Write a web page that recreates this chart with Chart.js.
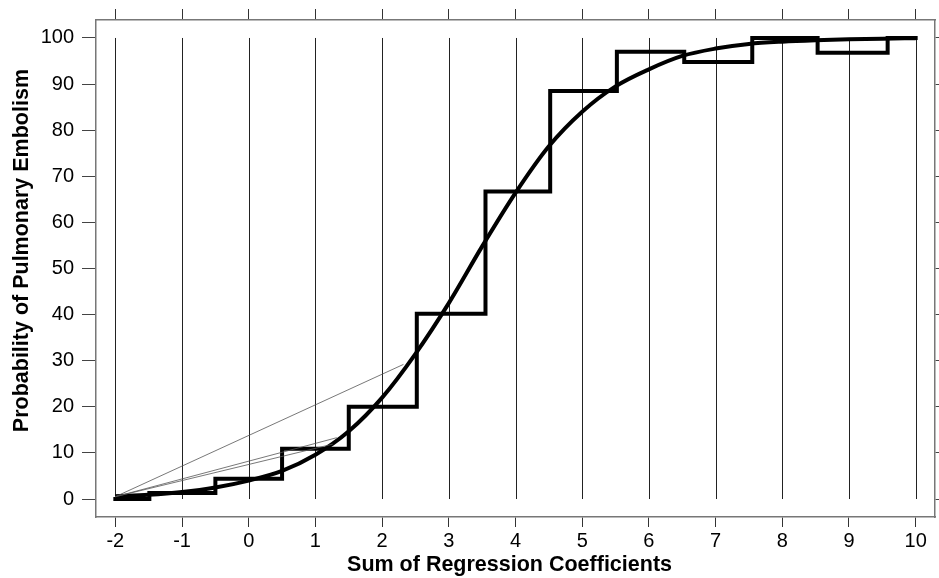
<!DOCTYPE html>
<html>
<head>
<meta charset="utf-8">
<script src="https://cdn.jsdelivr.net/npm/chart.js@4/dist/chart.umd.min.js"></script>
<style>
html,body{margin:0;padding:0;background:#fff;}
#wrap{width:939px;height:578px;}
</style>
</head>
<body>
<div id="wrap"><canvas id="c" width="939" height="578"></canvas></div>
<script>
// ---- data ----
const xTicks = [-2,-1,0,1,2,3,4,5,6,7,8,9,10];
const yTicks = [0,10,20,30,40,50,60,70,80,90,100];

// observed proportions (step function): start of each step and its level
const stepX = [-2, -1.49, -0.5, 0.5, 1.5, 2.52, 3.55, 4.52, 5.52, 6.53, 7.55, 8.53, 9.58, 10];
const stepY = [0, 1.3, 4.4, 10.9, 20, 40.2, 66.7, 88.5, 97, 94.8, 100, 96.8, 100, 100];

// fitted curve, read at half-unit points
const curveX = [-2,-1.5,-1,-0.5,0,0.5,1,1.5,2,2.5,3,3.5,4,4.5,5,5.5,6,6.5,7,7.5,8,8.5,9,9.5,10];
const curveY = [0.6,0.9,1.5,2.5,4,6.1,9.6,14.7,22,31.5,42.5,54.8,66.4,76.5,84,89.5,93.2,96.1,97.7,98.7,99.2,99.5,99.7,99.85,99.95];

// thin lines fanning out from a common origin
const fanOrigin = [-2, 0.5];
const fanEndX = [2.32, 1.32, 1.26];
const fanEndY = [29.2, 13.3, 11.9];

const xTitle = 'Sum of Regression Coefficients  ';
const yTitle = '      Probability of Pulmonary Embolism';

// ---- build datasets ----
const pts = (xs, ys) => xs.map((x, i) => ({x: x, y: ys[i]}));
const datasets = [];
fanEndX.forEach((ex, i) => {
  datasets.push({
    data: [{x: fanOrigin[0], y: fanOrigin[1]}, {x: ex, y: fanEndY[i]}],
    borderColor: '#555', borderWidth: 0.8, pointRadius: 0, tension: 0
  });
});
datasets.push({
  data: pts(stepX, stepY), stepped: 'before',
  borderColor: '#000', borderWidth: 4, pointRadius: 0, borderJoinStyle: 'miter', borderCapStyle: 'square'
});
datasets.push({
  data: pts(curveX, curveY), cubicInterpolationMode: 'monotone',
  borderColor: '#000', borderWidth: 4, pointRadius: 0
});

// vertical grid lines spanning only the data range 0..100
const vGrid = {
  id: 'vGrid',
  beforeDatasetsDraw(chart) {
    const {ctx, scales: {x, y}} = chart;
    const y0 = y.getPixelForValue(yTicks[0]);
    const y1 = y.getPixelForValue(yTicks[yTicks.length - 1]);
    ctx.save();
    ctx.strokeStyle = '#222';
    ctx.lineWidth = 1;
    xTicks.forEach(v => {
      const px = Math.round(x.getPixelForValue(v)) + 0.5;
      ctx.beginPath();
      ctx.moveTo(px, y0);
      ctx.lineTo(px, y1);
      ctx.stroke();
    });
    ctx.restore();
  }
};

const tickFont = {family: "'Liberation Sans', Arial, sans-serif", size: 20};
const titleFont = {family: "'Liberation Sans', Arial, sans-serif", size: 21.5, weight: 'bold'};
const setX = s => { s.ticks = xTicks.map(v => ({value: v})); };
const setY = s => { s.ticks = yTicks.map(v => ({value: v})); };
const border = {display: true, color: '#777', width: 1.5};

new Chart(document.getElementById('c'), {
  type: 'line',
  data: {datasets: datasets},
  plugins: [vGrid],
  options: {
    responsive: false,
    animation: false,
    devicePixelRatio: 1,
    layout: {padding: 0},
    plugins: {legend: {display: false}, tooltip: {enabled: false}},
    scales: {
      x: {
        type: 'linear', position: 'bottom', min: -2.29, max: 10.29,
        afterBuildTicks: setX,
        afterFit: s => { s.height = 61; },
        grid: {drawOnChartArea: false, drawTicks: true, tickLength: 10, color: '#333', tickWidth: 1},
        border: border,
        ticks: {font: tickFont, color: '#000', padding: 2, maxRotation: 0, autoSkip: false},
        title: {display: true, text: xTitle, font: titleFont, color: '#000', padding: {top: 0, bottom: 0}}
      },
      x2: {
        type: 'linear', axis: 'x', position: 'top', min: -2.29, max: 10.29,
        afterBuildTicks: setX,
        afterFit: s => { s.height = 18; },
        grid: {drawOnChartArea: false, drawTicks: true, tickLength: 11, color: '#333', tickWidth: 1},
        border: border,
        ticks: {display: false}
      },
      y: {
        type: 'linear', position: 'left', min: -3.9, max: 103.9,
        afterBuildTicks: setY,
        afterFit: s => { s.width = 96; },
        grid: {drawOnChartArea: false, drawTicks: true, tickLength: 14, color: '#444', tickWidth: 1},
        border: border,
        ticks: {font: tickFont, color: '#000', padding: 8, autoSkip: false},
        title: {display: true, text: yTitle, font: titleFont, color: '#000', padding: {top: 9, bottom: 0}}
      },
      y2: {
        type: 'linear', axis: 'y', position: 'right', min: -3.9, max: 103.9,
        afterBuildTicks: setY,
        afterFit: s => { s.width = 4; },
        grid: {drawOnChartArea: false, drawTicks: true, tickLength: 4, color: '#444', tickWidth: 1},
        border: border,
        ticks: {display: false}
      }
    }
  }
});
</script>
</body>
</html>
